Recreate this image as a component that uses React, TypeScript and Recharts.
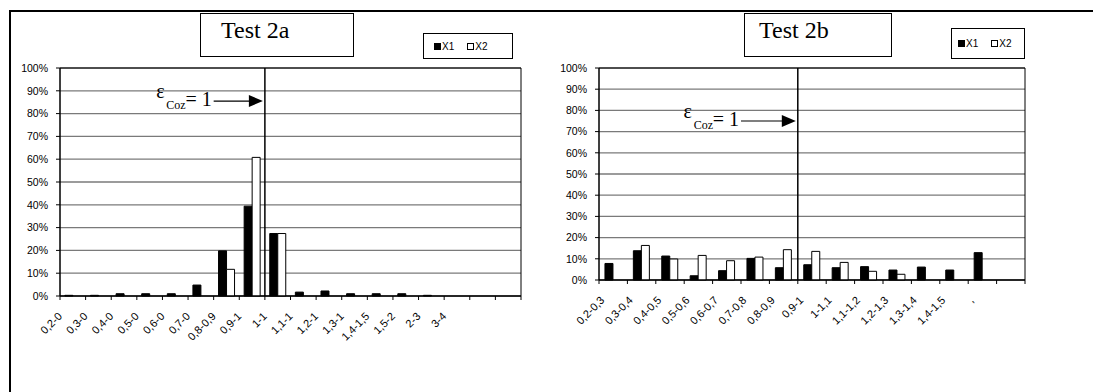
import React from 'react';
import { BarChart, Bar, XAxis, YAxis, CartesianGrid, ReferenceLine, ReferenceArea, Legend } from 'recharts';

// Test 2a
const catsA = ['0,2-0', '0,3-0', '0,4-0', '0,5-0', '0,6-0', '0,7-0', '0,8-0,9', '0,9-1', '1-1', '1,1-1', '1,2-1', '1,3-1', '1,4-1,5', '1,5-2', '2-3', '3-4', '', ' '];
const x1A = [0.3, 0.3, 1, 1, 1, 4.8, 19.8, 39.4, 27.4, 1.7, 2.2, 1, 1, 1, 0.3, 0, 0, 0];
const x2A = [0, 0, 0, 0, 0, 0, 11.7, 60.8, 27.4, 0, 0, 0, 0, 0, 0, 0, 0, 0];

// Test 2b
const catsB = ['0,2-0,3', '0,3-0,4', '0,4-0,5', '0,5-0,6', '0,6-0,7', '0,7-0,8', '0,8-0,9', '0,9-1', '1-1,1', '1,1-1,2', '1,2-1,3', '1,3-1,4', '1,4-1,5', ',', ''];
const x1B = [7.8, 13.8, 11.3, 2, 4.4, 10.2, 5.8, 7.2, 5.8, 6.3, 4.7, 6.1, 4.7, 12.9, 0];
const x2B = [0, 16.3, 9.9, 11.6, 9.1, 10.8, 14.3, 13.5, 8.3, 4.1, 2.7, 0, 0, 0, 0];

const yTicks = [0, 10, 20, 30, 40, 50, 60, 70, 80, 90, 100];

const SANS = '"Liberation Sans", Arial, sans-serif';
const SERIF = '"Liberation Serif", "Times New Roman", serif';

// category label, slanted; tick marks sit on the category boundaries like Excel
const SlantTick = ({ x, y, payload, shift, half, last }: any) => {
  const ex = x - shift;
  const ey = y + 21;
  return (
    <g>
      <line x1={x - half} y1={y} x2={x - half} y2={y + 4} stroke="#000" />
      {payload.index === last && <line x1={x + half} y1={y} x2={x + half} y2={y + 4} stroke="#000" />}
      <text x={ex} y={ey} textAnchor="end" fontFamily={SANS} fontSize={11} fill="#000"
        transform={`rotate(-45, ${ex}, ${ey})`}>
        {payload.value}
      </text>
    </g>
  );
};

const Arrow = (p: any) => {
  const { x1, y1, x2 } = p;
  return (
    <g>
      <line x1={x1} y1={y1} x2={x2 - 14} y2={y1} stroke="#000" strokeWidth={1.2} />
      <polygon points={`${x2 - 16},${y1 - 6} ${x2 - 2},${y1} ${x2 - 16},${y1 + 6}`} fill="#000" />
      <text x={x1 - 2} y={y1 + 5} textAnchor="end" fontFamily={SERIF} fontSize={20} fill="#000">= 1</text>
      <text x={x1 - 28} y={y1 + 8} textAnchor="end" fontFamily={SERIF} fontSize={12} fill="#000">Coz</text>
      <text x={x1 - 49} y={y1 - 3} textAnchor="end" fontFamily={SERIF} fontSize={20} fill="#000">ε</text>
    </g>
  );
};

const LegendBox = ({ pad }: any) => (
  <div style={{ border: '1px solid #000', height: '100%', boxSizing: 'border-box', display: 'flex', alignItems: 'center', justifyContent: 'flex-start', paddingLeft: pad, gap: 13, fontFamily: SANS, fontSize: 10, background: '#fff' }}>
    <span style={{ display: 'flex', alignItems: 'center' }}>
      <span style={{ width: 7, height: 7, background: '#000', marginRight: 1 }} />X1
    </span>
    <span style={{ display: 'flex', alignItems: 'center' }}>
      <span style={{ width: 5, height: 5, border: '1px solid #000', marginRight: 1 }} />X2
    </span>
  </div>
);

interface PanelProps {
  cats: string[];
  x1: number[];
  x2: number[];
  width: number;
  margin: { top: number; right: number; bottom: number; left: number };
  yWidth: number;
  splitAt: number;
  arrowFrom: number;
  arrowY: number;
  tickShift: number;
  gap: string;
  legendPos: { left: number; top: number; width: number; height: number };
  legendPad: number;
}

function Panel({ cats, x1, x2, width, margin, yWidth, splitAt, arrowFrom, arrowY, tickShift, gap, legendPos, legendPad }: PanelProps) {
  const data = cats.map((name, i) => ({ name, X1: x1[i], X2: x2[i] }));
  const half = (width - margin.left - margin.right - yWidth) / cats.length / 2;
  return (
    <BarChart width={width} height={392} data={data} margin={margin} barCategoryGap={gap} barGap={0}>
      <CartesianGrid vertical={false} stroke="#7a7a7a" strokeWidth={1.3} />
      <XAxis dataKey="name" height={60} interval={0} tickLine={false} axisLine={{ stroke: '#000' }}
        tickSize={0} tickMargin={0}
        tick={<SlantTick shift={tickShift} half={half} last={cats.length - 1} />} />
      <YAxis domain={[0, 100]} ticks={yTicks} interval={0} width={yWidth} tickSize={4} tickMargin={8}
        tickFormatter={(v) => `${v}%`} tick={{ fill: '#000', fontSize: 10.5, fontFamily: SANS }}
        tickLine={{ stroke: '#000' }} axisLine={{ stroke: '#000' }} />
      <Legend verticalAlign="middle" layout="horizontal" content={<LegendBox pad={legendPad} />}
        wrapperStyle={{ position: 'absolute', ...legendPos }} />
      <Bar dataKey="X1" name="X1" fill="#000" stroke="#000" strokeWidth={1} isAnimationActive={false} />
      <Bar dataKey="X2" name="X2" fill="#fff" stroke="#000" strokeWidth={1} isAnimationActive={false} />
      <ReferenceArea y1={0} y2={100} fill="none" fillOpacity={0} stroke="#000" strokeWidth={1} />
      <ReferenceLine x={cats[splitAt]} position="start" stroke="#000" strokeWidth={1.5} />
      <ReferenceLine position="start"
        segment={[{ x: cats[arrowFrom], y: arrowY }, { x: cats[splitAt], y: arrowY }]} shape={Arrow} />
    </BarChart>
  );
}

const titleStyle: React.CSSProperties = {
  position: 'absolute', top: 13, height: 44, border: '1px solid #000', boxSizing: 'border-box',
  fontFamily: SERIF, fontSize: 24, lineHeight: '32px', background: '#fff',
};

export default function App() {
  return (
    <div style={{ position: 'absolute', left: 0, top: 0, width: 1093, height: 392, background: '#fff', overflow: 'hidden' }}>
      <div style={{ position: 'absolute', left: 9, top: 10, width: 1084, height: 382, borderTop: '2px solid #000', borderLeft: '2px solid #000' }} />
      <div style={{ position: 'absolute', left: 0, top: 0 }}>
        <Panel cats={catsA} x1={x1A} x2={x2A} width={540} yWidth={50}
          margin={{ top: 68, right: 19, bottom: 36, left: 10 }}
          splitAt={8} arrowFrom={6} arrowY={85.5} tickShift={10} gap="19%"
          legendPos={{ left: 423, top: 33, width: 90, height: 26 }} legendPad={10} />
      </div>
      <div style={{ position: 'absolute', left: 540, top: 0 }}>
        <Panel cats={catsB} x1={x1B} x2={x2B} width={553} yWidth={49}
          margin={{ top: 68, right: 68, bottom: 52, left: 10 }}
          splitAt={7} arrowFrom={5} arrowY={75} tickShift={8} gap="21%"
          legendPos={{ left: 411, top: 28, width: 74, height: 31 }} legendPad={6} />
      </div>
      <div style={{ ...titleStyle, left: 200, width: 154, paddingLeft: 20 }}>Test 2a</div>
      <div style={{ ...titleStyle, left: 744, width: 148, paddingLeft: 14 }}>Test 2b</div>
    </div>
  );
}
